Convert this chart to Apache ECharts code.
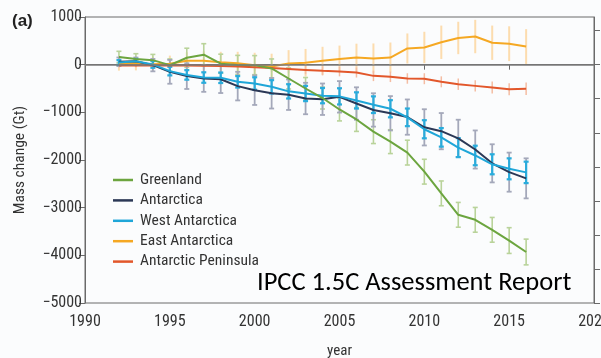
<!DOCTYPE html>
<html><head><meta charset="utf-8">
<script src="https://cdn.jsdelivr.net/npm/echarts@6/dist/echarts.min.js"></script>
<style>html,body{margin:0;padding:0;background:#fbfcfd}#c{width:601px;height:358px}</style>
</head><body><div id="c"></div>
<script>
const years = [1992,1993,1994,1995,1996,1997,1998,1999,2000,2001,2002,2003,2004,2005,2006,2007,2008,2009,2010,2011,2012,2013,2014,2015,2016];
const greenland = [160,120,95,-10,145,210,20,-5,-10,-80,-290,-500,-700,-940,-1150,-1405,-1615,-1845,-2245,-2700,-3150,-3255,-3465,-3690,-3930];
const greenlandErr = [120,110,120,130,200,230,200,200,200,200,220,230,230,240,250,250,250,260,260,260,260,260,260,270,270];
const antarctica = [60,70,-10,-150,-240,-290,-305,-450,-535,-600,-630,-710,-725,-675,-815,-950,-1020,-1100,-1315,-1395,-1545,-1780,-2070,-2255,-2385];
const antarcticaErr = [90,80,130,250,270,280,290,300,310,320,320,330,330,330,340,350,360,370,380,380,390,400,400,410,420];
const westAntarctica = [45,70,5,-135,-215,-270,-275,-360,-395,-465,-560,-605,-650,-665,-750,-840,-925,-1105,-1355,-1525,-1740,-1905,-2090,-2185,-2260];
const westErr = [50,50,70,90,100,110,110,120,130,140,150,160,160,170,170,175,180,185,190,195,200,205,210,220,225];
const eastAntarctica = [25,30,10,20,80,80,50,30,-10,-40,25,40,80,120,150,130,150,340,360,470,560,590,460,440,380];
const eastErr = [150,150,160,170,180,200,220,240,260,270,280,290,295,280,290,315,315,315,330,350,340,350,360,365,365];
const peninsula = [-20,-15,-10,-15,-20,-25,-30,-40,-55,-70,-90,-110,-130,-145,-165,-235,-255,-290,-295,-360,-410,-445,-480,-515,-505];
const peninsulaErr = [40,40,45,50,55,60,65,70,75,80,85,90,95,100,105,110,110,110,115,115,120,120,125,125,130];
const xTicks = [1990,1995,2000,2005,2010,2015,2020];
const yTicks = [-5000,-4000,-3000,-2000,-1000,0,1000];
const rightTicks = [-14,-12,-10,-8,-6,-4,-2,0,2];

const FONT = '"Roboto Condensed", "Liberation Sans", Arial, sans-serif';
const TXT = '#333';
const C = {
  green:'#6ca53f', greenBar:'#b9d39a',
  dark:'#2b3856', darkBar:'#a4a8ba',
  cyan:'#1fa6d8', cyanBar:'#29acdc',
  orange:'#f5a823', orangeBar:'#fcdcae',
  red:'#e2572b', redBar:'#f4bda3'
};

function pairs(v){ return years.map((y,i)=>[y, v[i]]); }
function bars(v, e){ return years.map((y,i)=>[y, v[i]-e[i], v[i]+e[i]]); }

function errSeries(v, e, color, width, cap){
  return {
    type:'custom', silent:true, z:1,
    encode:{x:0, y:[1,2]},
    data: bars(v, e),
    renderItem: function(params, api){
      const x = api.value(0);
      const top = api.coord([x, api.value(2)]);
      const bot = api.coord([x, api.value(1)]);
      const st = {stroke:color, lineWidth:width};
      const children = [{type:'line', shape:{x1:top[0],y1:top[1],x2:bot[0],y2:bot[1]}, style:st}];
      if (cap){
        children.push({type:'line', shape:{x1:top[0]-cap,y1:top[1],x2:top[0]+cap,y2:top[1]}, style:st});
        children.push({type:'line', shape:{x1:bot[0]-cap,y1:bot[1],x2:bot[0]+cap,y2:bot[1]}, style:st});
      }
      return {type:'group', children};
    }
  };
}
function lineSeries(name, v, color, z){
  return {name, type:'line', data:pairs(v), symbol:'none', showSymbol:false, z:z||3,
    lineStyle:{color, width:2}, itemStyle:{color}};
}

const chart = echarts.init(document.getElementById('c'), null, {renderer:'canvas'});
chart.setOption({
  backgroundColor:'#fbfcfd',
  animation:false,
  title:{text:'(a)', left:7, top:8, textStyle:{fontFamily:'"Liberation Sans", Arial, sans-serif', fontSize:17, fontWeight:'bold', color:'#222'}},
  grid:{left:85, right:7, top:17, bottom:55, outerBoundsMode:'none', containLabel:false,
    show:true, borderColor:'#6a6a6a', borderWidth:1, backgroundColor:'transparent'},
  legend:{
    data:['Greenland','Antarctica','West Antarctica','East Antarctica','Antarctic Peninsula'],
    orient:'vertical', left:108, top:167, icon:'rect', itemWidth:20, itemHeight:2.5, itemGap:4.4,
    textStyle:{fontFamily:FONT, fontSize:15.5, lineHeight:16, color:TXT, padding:[0,0,0,2]}
  },
  xAxis:{
    type:'value', min:xTicks[0], max:xTicks[xTicks.length-1], interval:5,
    name:'year', nameLocation:'middle', nameGap:41,
    nameTextStyle:{fontFamily:FONT, fontSize:15, color:TXT},
    axisLine:{lineStyle:{color:'#6a6a6a', width:1}},
    axisTick:{show:true, inside:false, length:5, lineStyle:{color:'#6a6a6a'}},
    axisLabel:{fontFamily:FONT, fontSize:16, color:TXT, margin:11, formatter: v=>String(v)},
    splitLine:{show:false}
  },
  yAxis:[{
    type:'value', min:yTicks[0], max:yTicks[yTicks.length-1], interval:1000,
    name:'Mass change (Gt)', nameLocation:'middle', nameGap:57, nameRotate:90,
    nameTextStyle:{fontFamily:FONT, fontSize:15.5, color:TXT},
    axisLine:{show:true, lineStyle:{color:'#6a6a6a', width:1}},
    axisTick:{show:true, inside:false, length:6, lineStyle:{color:'#6a6a6a'}},
    axisLabel:{fontFamily:FONT, fontSize:16, color:TXT, margin:3, formatter: v=>String(v).replace('-', '\u2212')},
    splitLine:{show:false}
  },{
    type:'value', position:'right', min:-14, max:2.8, interval:2,
    axisLine:{show:true, lineStyle:{color:'#6a6a6a', width:1}},
    axisTick:{show:true, inside:false, length:6, customValues:rightTicks, lineStyle:{color:'#6a6a6a'}},
    axisLabel:{show:false},
    splitLine:{show:false}
  }],
  graphic:[{
    type:'text', left:257, top:270, z:100,
    style:{text:'IPCC 1.5C Assessment Report', font:'26.5px Carlito, "Open Sans", sans-serif', fill:'#000'}
  }],
  series:[
    errSeries(eastAntarctica, eastErr, C.orangeBar, 2, 0),
    errSeries(peninsula, peninsulaErr, C.redBar, 1.5, 0),
    errSeries(greenland, greenlandErr, C.greenBar, 1.6, 2.5),
    errSeries(antarctica, antarcticaErr, C.darkBar, 1.8, 2.5),
    errSeries(westAntarctica, westErr, C.cyanBar, 2.2, 2.5),
    {type:'line', data:[], silent:true, z:2,
      markLine:{silent:true, symbol:'none', label:{show:false}, animation:false,
        lineStyle:{color:'#7a7a7a', width:1.5, type:'solid'}, data:[{yAxis:0}]}},
    lineSeries('East Antarctica', eastAntarctica, C.orange),
    lineSeries('Antarctic Peninsula', peninsula, C.red),
    lineSeries('Antarctica', antarctica, C.dark),
    lineSeries('West Antarctica', westAntarctica, C.cyan),
    lineSeries('Greenland', greenland, C.green, 4)
  ]
});
</script>
</body></html>
